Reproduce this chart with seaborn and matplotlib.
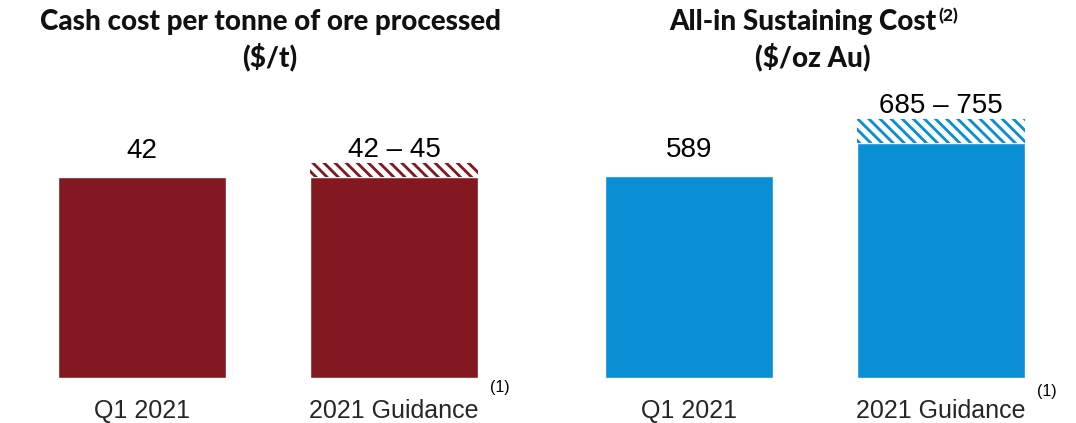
import matplotlib
matplotlib.use("Agg")
import matplotlib.pyplot as plt
import seaborn as sns
import pandas as pd

# data
categories = ["Q1 2021", "2021 Guidance"]
cash_cost_actual = 42
cash_cost_guidance = (42, 45)
aisc_actual = 589
aisc_guidance = (685, 755)

RED = "#821820"
BLUE = "#0a8fd4"

sns.set_theme(style="white")
plt.rcParams["font.family"] = ["Liberation Sans", "DejaVu Sans"]
plt.rcParams["hatch.linewidth"] = 3.6

W, H = 1076, 423
fig = plt.figure(figsize=(W / 100, H / 100), dpi=100)

# axes geometry in pixels: bottom at y=378 from top, 280 px tall
ax_bottom = (H - 378) / H
ax_height = 280 / H
ax_l = fig.add_axes([16 / W, ax_bottom, 504 / W, ax_height])
ax_r = fig.add_axes([563 / W, ax_bottom, 504 / W, ax_height])


def draw_panel(ax, actual, guidance, color, ymax, note_dy):
    low, high = guidance
    df = pd.DataFrame({"cat": categories, "val": [actual, low]})
    sns.barplot(data=df, x="cat", y="val", color=color, saturation=1,
                width=0.667, ax=ax)
    # hatched guidance range
    ax.bar(1, high - low, bottom=low, width=0.667, color=color,
           edgecolor="white", hatch="\\\\\\", linewidth=0)
    ax.set_xlim(-0.5, 1.5)
    ax.set_ylim(0, ymax)
    ax.set_xlabel("")
    ax.set_ylabel("")
    ax.set_yticks([])
    ax.tick_params(axis="x", length=0, pad=15, labelsize=18)
    for s in ax.spines.values():
        s.set_visible(False)
    ax.annotate(f"{actual:g}", xy=(0, actual), xytext=(0, 13.5),
                textcoords="offset points", ha="center", va="baseline",
                fontsize=20, color="black")
    ax.annotate(f"{low:g} – {high:g}", xy=(1, high), xytext=(0, 4),
                textcoords="offset points", ha="center", va="baseline",
                fontsize=20, color="black")
    # footnote marker next to the guidance tick label
    ax.annotate("(1)", xy=(1.42, 0), xycoords=("data", "axes fraction"),
                xytext=(0, note_dy), textcoords="offset points", ha="center",
                va="center", fontsize=11.5, color="black")


draw_panel(ax_l, cash_cost_actual, cash_cost_guidance, RED, 280 / 4.786, -7)
draw_panel(ax_r, aisc_actual, aisc_guidance, BLUE, 280 / 0.343, -10)

title_kw = dict(fontsize=20, fontweight="black", family=["Lato", "DejaVu Sans"],
                ha="center", va="baseline", color="#111111")
y1 = (H - 30) / H
y2 = (H - 66) / H
fig.text(270 / W, y1, "Cash cost per tonne of ore processed", **title_kw)
fig.text(270 / W, y2, "($/t)", **title_kw)
t_r = fig.text(803 / W, y1, "All-in Sustaining Cost", **title_kw)
fig.text(813 / W, y2, "($/oz Au)", **title_kw)
fig.canvas.draw()
ax_r.annotate("(2)", xy=(1, 1), xycoords=t_r, xytext=(1, 1),
              textcoords="offset points", ha="left", va="top",
              fontsize=12.5, fontweight="black", family=["Lato", "DejaVu Sans"],
              color="#111111")

fig.savefig("out.png", dpi=100)
